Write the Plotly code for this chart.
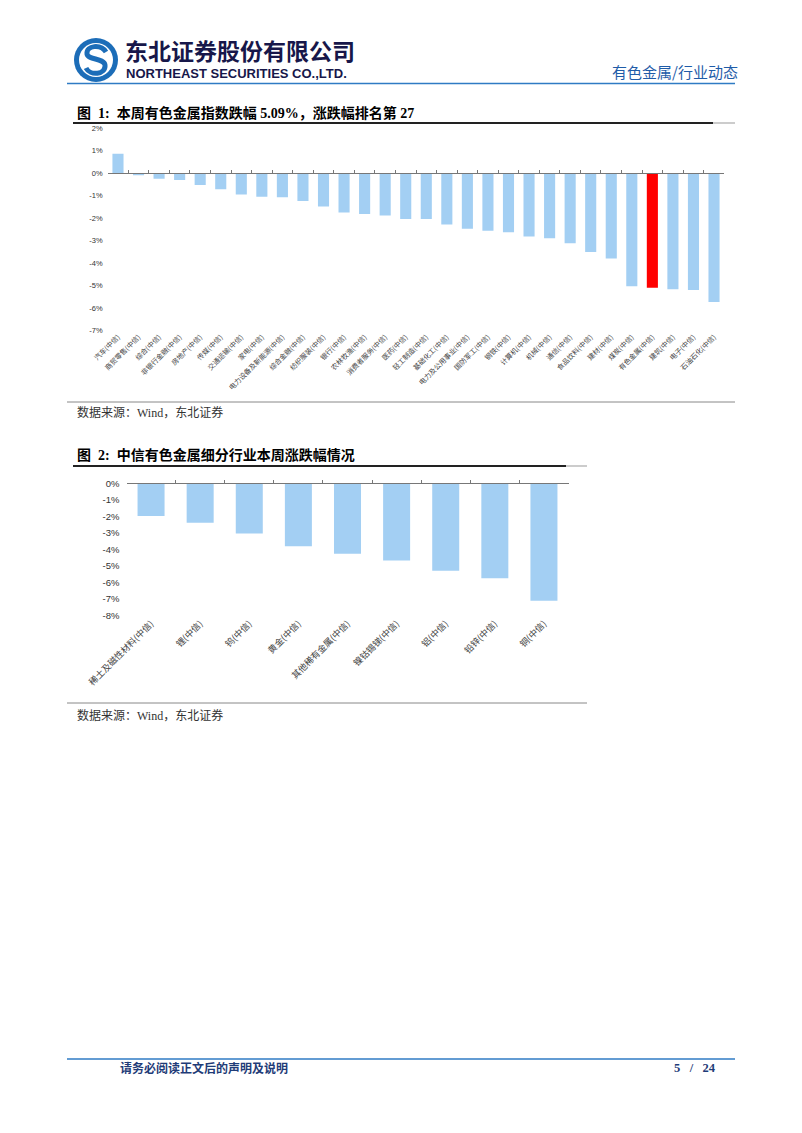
import plotly.graph_objects as go

W, H = 802, 1133
OFF = 8  # page body margin in the browser

# ---------------- data ----------------
cats1 = ["汽车(中信)", "商贸零售(中信)", "综合(中信)", "非银行金融(中信)", "房地产(中信)",
         "传媒(中信)", "交通运输(中信)", "家电(中信)", "电力设备及新能源(中信)", "综合金融(中信)",
         "纺织服装(中信)", "银行(中信)", "农林牧渔(中信)", "消费者服务(中信)", "医药(中信)",
         "轻工制造(中信)", "基础化工(中信)", "电力及公用事业(中信)", "国防军工(中信)", "钢铁(中信)",
         "计算机(中信)", "机械(中信)", "通信(中信)", "食品饮料(中信)", "建材(中信)",
         "煤炭(中信)", "有色金属(中信)", "建筑(中信)", "电子(中信)", "石油石化(中信)"]
vals1 = [0.86, -0.09, -0.25, -0.30, -0.52, -0.71, -0.95, -1.05, -1.07, -1.24,
         -1.48, -1.75, -1.81, -1.88, -2.04, -2.04, -2.28, -2.47, -2.56, -2.62,
         -2.81, -2.89, -3.11, -3.50, -3.79, -5.02, -5.09, -5.16, -5.19, -5.72]
highlight1 = "有色金属(中信)"

cats2 = ["稀土及磁性材料(中信)", "锂(中信)", "钨(中信)", "黄金(中信)", "其他稀有金属(中信)",
         "镍钴锡锑(中信)", "铝(中信)", "铅锌(中信)", "铜(中信)"]
vals2 = [-1.98, -2.38, -3.04, -3.81, -4.25, -4.66, -5.28, -5.73, -7.10]

yticks1 = [2, 1, 0, -1, -2, -3, -4, -5, -6, -7]
yticks2 = [0, -1, -2, -3, -4, -5, -6, -7, -8]

BLUE_BAR = "#A3CFF3"
RED_BAR = "#FF0000"

def px(x):
    return (x - OFF) / W

def py(y):
    return 1 - (y - OFF) / H

colors1 = [RED_BAR if c == highlight1 else BLUE_BAR for c in cats1]

fig = go.Figure()
fig.add_trace(go.Bar(x=cats1, y=vals1, marker=dict(color=colors1, line=dict(width=0)),
                     width=0.54, xaxis="x", yaxis="y", hoverinfo="skip", showlegend=False))
fig.add_trace(go.Bar(x=cats2, y=vals2, marker=dict(color=BLUE_BAR, line=dict(width=0)),
                     width=0.55, xaxis="x2", yaxis="y2", hoverinfo="skip", showlegend=False))
# invisible traces to carry the zero-level axis lines with boundary ticks
fig.add_trace(go.Bar(x=cats1, y=vals1, marker=dict(opacity=0), xaxis="x3", yaxis="y",
                     hoverinfo="skip", showlegend=False))
fig.add_trace(go.Bar(x=cats2, y=vals2, marker=dict(opacity=0), xaxis="x4", yaxis="y2",
                     hoverinfo="skip", showlegend=False))

# geometry (page pixels)
c1_x0, c1_x1 = 107.7, 724.3
c1_ytop, c1_ybot = 128.2, 330.7     # 2% .. -7%
c2_x0, c2_x1 = 126.5, 568.5
c2_ytop, c2_ybot = 483.3, 615.7     # 0% .. -8%

zero1 = c1_ytop + (c1_ybot - c1_ytop) * (2 / 9)

tickfont1 = dict(family="Noto Sans CJK SC", size=7, color="#444")
tickfont2 = dict(family="Noto Sans CJK SC", size=9, color="#444")
yfont1 = dict(family="Liberation Sans", size=7.5, color="#333")
yfont2 = dict(family="Liberation Sans", size=9.5, color="#333")

fig.update_layout(
    width=W, height=H,
    margin=dict(l=0, r=0, t=0, b=0, pad=0, autoexpand=False),
    paper_bgcolor="white", plot_bgcolor="rgba(0,0,0,0)",
    bargap=0.45,
    xaxis=dict(domain=[px(c1_x0), px(c1_x1)], anchor="y", tickangle=-45, automargin=False,
               tickfont=tickfont1, showgrid=False, showline=False, ticks="",
               categoryorder="array", categoryarray=cats1, fixedrange=True),
    yaxis=dict(domain=[py(c1_ybot), py(c1_ytop)], anchor="x", range=[-7, 2], automargin=False,
               tickmode="array", tickvals=yticks1, ticktext=[f"{v}%" for v in yticks1],
               tickfont=yfont1, showgrid=False,
               zeroline=False, showline=False, ticks="", ticklabelstandoff=4),
    xaxis2=dict(domain=[px(c2_x0), px(c2_x1)], anchor="y2", tickangle=-45, automargin=False,
                tickfont=tickfont2, showgrid=False, showline=False, ticks="",
                categoryorder="array", categoryarray=cats2),
    yaxis2=dict(domain=[py(c2_ybot), py(c2_ytop)], anchor="x2", range=[-8, 0], automargin=False,
                tickmode="array", tickvals=yticks2, ticktext=[f"{v}%" for v in yticks2],
                tickfont=yfont2, showgrid=False,
                zeroline=False, showline=False, ticks="", ticklabelstandoff=6),
    xaxis3=dict(overlaying="x", matches="x", anchor="free", position=py(zero1), automargin=False,
                showline=True, linecolor="#777", linewidth=1, ticks="inside",
                tickson="boundaries", ticklen=3, tickcolor="#777",
                showticklabels=False, showgrid=False, domain=[px(c1_x0), px(c1_x1)]),
    xaxis4=dict(overlaying="x2", matches="x2", anchor="free", position=py(c2_ytop), automargin=False,
                showline=True, linecolor="#777", linewidth=1, ticks="inside",
                tickson="boundaries", ticklen=3, tickcolor="#777",
                showticklabels=False, showgrid=False, domain=[px(c2_x0), px(c2_x1)]),
)

shapes = []
def hline(x0, x1, y, color, width):
    shapes.append(dict(type="line", xref="paper", yref="paper",
                       x0=px(x0), x1=px(x1), y0=py(y), y1=py(y),
                       line=dict(color=color, width=width)))

# header / footer rules
hline(67, 735, 83.5, "#2F7BC4", 1.5)
hline(67, 735, 1059, "#2F7BC4", 1.5)
# figure 1 rules
hline(73, 713, 123, "#222", 2)
hline(713, 735, 123, "#999", 1)
hline(67, 735, 402, "#888", 1)
# figure 2 rules
hline(73, 566, 466, "#222", 2)
hline(566, 587, 466, "#999", 1)
hline(67, 587, 703, "#888", 1)

# logo
cx, cy, r = 96, 60, 22
shapes.append(dict(type="circle", xref="paper", yref="paper",
                   x0=px(cx - r), x1=px(cx + r), y0=py(cy + r), y1=py(cy - r),
                   fillcolor="#1C6DB8", line=dict(width=0)))
r2 = 17
shapes.append(dict(type="circle", xref="paper", yref="paper",
                   x0=px(cx - r2), x1=px(cx + r2), y0=py(cy + r2), y1=py(cy - r2),
                   fillcolor="white", line=dict(width=0)))
def P(x, y):
    return f"{px(x):.5f},{py(y):.5f}"
spath = (f"M {P(106, 52)} C {P(101, 44)} {P(86, 45)} {P(87, 54)} "
         f"C {P(88, 60)} {P(104, 58)} {P(105, 65)} C {P(106, 75)} {P(90, 76)} {P(86, 68)}")
shapes.append(dict(type="path", xref="paper", yref="paper", path=spath,
                   line=dict(color="#1C6DB8", width=5)))
fig.update_layout(shapes=shapes)

ann = []
def text(x, y, s, size, color="#000", family="Noto Sans CJK SC", xanchor="left", bold=False):
    ann.append(dict(x=px(x), y=py(y), xref="paper", yref="paper", text=f"<b>{s}</b>" if bold else s,
                    showarrow=False, xanchor=xanchor, yanchor="middle",
                    font=dict(size=size, color=color, family=family)))

text(123, 50.5, "东北证券股份有限公司", 23, "#17174A", bold=True)
text(124, 74, "NORTHEAST SECURITIES CO.,LTD.", 13, "#17174A", family="Liberation Sans", bold=True)
text(740, 71, "有色金属/行业动态", 15, "#1F5CA8", xanchor="right")

serif_cjk = "Liberation Serif, Noto Sans CJK SC"
text(75, 113, "图  1:  本周有色金属指数跌幅 5.09%，涨跌幅排名第 27", 14, "#000", serif_cjk, bold=True)
text(75, 412, "数据来源：Wind，东北证券", 12, "#333", serif_cjk)
text(75, 455, "图  2:  中信有色金属细分行业本周涨跌幅情况", 14, "#000", serif_cjk, bold=True)
text(75, 715, "数据来源：Wind，东北证券", 12, "#333", serif_cjk)

text(118, 1068, "请务必阅读正文后的声明及说明", 12, "#1F3C78", serif_cjk, bold=True)
text(718, 1068, "5   /   24", 12.5, "#1F3C78", serif_cjk, xanchor="right", bold=True)

fig.update_layout(annotations=ann)

fig.write_html("out.html")
